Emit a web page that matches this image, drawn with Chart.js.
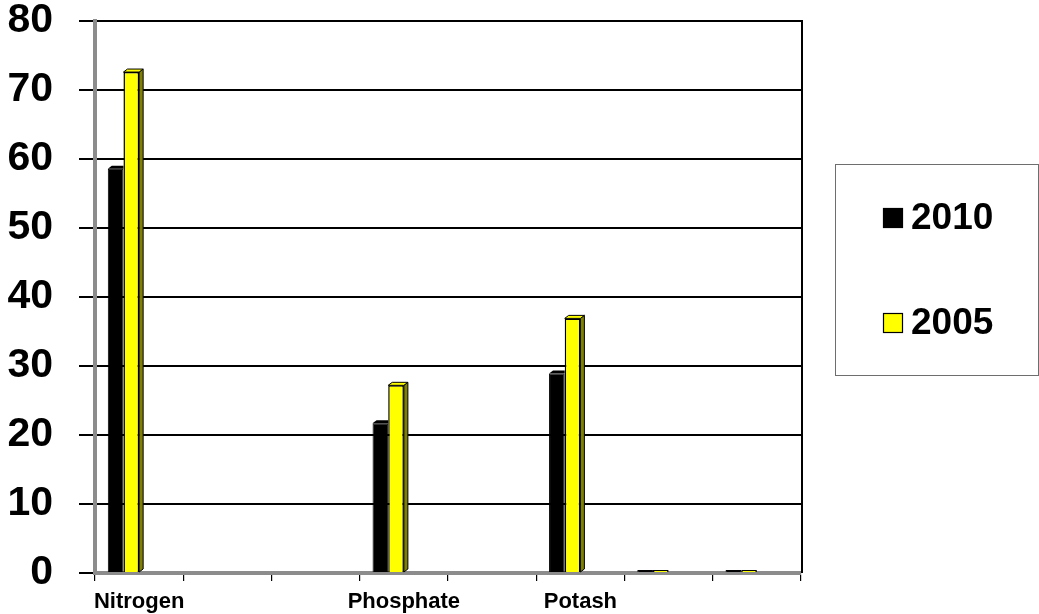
<!DOCTYPE html>
<html><head><meta charset="utf-8">
<script src="https://cdn.jsdelivr.net/npm/chart.js@4.4.1/dist/chart.umd.min.js"></script>
<style>html,body{margin:0;padding:0;background:#fff;overflow:hidden}#wrap{position:relative;width:1039px;height:614px}</style>
</head><body><div id="wrap"><canvas id="c" width="1039" height="614"></canvas></div>
<script>
const categories = ["Nitrogen", "", "", "Phosphate", "", "Potash", "", ""];
const values2010 = [58.6, null, null, 21.7, null, 28.9, 0, 0];
const values2005 = [72.6, null, null, 27.2, null, 36.9, 0, 0];
const seriesNames = ["2010", "2005"];
const yTicks = [0, 10, 20, 30, 40, 50, 60, 70, 80];

const FONT = "'Liberation Sans', Arial, sans-serif";

// 3D-like faces derived from each bar element's own geometry
const depthPlugin = {
  id: 'depth',
  afterDatasetsDraw(chart) {
    const ctx = chart.ctx;
    const dx = 4, dy = 3;
    chart.data.datasets.forEach((ds, di) => {
      if (!ds.face) return;
      const meta = chart.getDatasetMeta(di);
      meta.data.forEach((bar, i) => {
        const v = ds.data[i];
        if (v === null || v === undefined || v <= 0) return;
        const p = bar.getProps(['x', 'y', 'base', 'width'], true);
        const l = p.x - p.width / 2, r = p.x + p.width / 2;
        ctx.save();
        ctx.lineWidth = 1;
        ctx.strokeStyle = '#000';
        if (ds.face.side) {
          ctx.beginPath();
          ctx.moveTo(r, p.y); ctx.lineTo(r + dx, p.y - dy);
          ctx.lineTo(r + dx, p.base - dy); ctx.lineTo(r, p.base);
          ctx.closePath();
          ctx.fillStyle = ds.face.side; ctx.fill(); ctx.stroke();
          ctx.beginPath();
          ctx.moveTo(l, p.y); ctx.lineTo(l + dx, p.y - dy);
          ctx.lineTo(r + dx, p.y - dy); ctx.lineTo(r, p.y);
          ctx.closePath();
          ctx.fillStyle = ds.face.top; ctx.fill(); ctx.stroke();
        } else {
          ctx.beginPath();
          ctx.moveTo(l, p.y); ctx.lineTo(l + dx, p.y - dy);
          ctx.lineTo(r, p.y - dy); ctx.lineTo(r, p.y);
          ctx.closePath();
          ctx.fillStyle = ds.face.top; ctx.fill();
        }
        ctx.restore();
      });
    });
    // plot frame right edge
    const a = chart.chartArea;
    ctx.save();
    ctx.strokeStyle = '#000'; ctx.lineWidth = 2;
    ctx.beginPath(); ctx.moveTo(a.right + 1, a.top - 1); ctx.lineTo(a.right + 1, a.bottom); ctx.stroke();
    ctx.restore();
  }
};

// Boxed legend on the right, built from the dataset labels/colours
const boxLegend = {
  id: 'boxLegend',
  afterDraw(chart) {
    const ctx = chart.ctx;
    const bx = 835.5, by = 164.5, bw = 203, bh = 211;
    ctx.save();
    ctx.strokeStyle = '#6e6e6e'; ctx.lineWidth = 1;
    ctx.strokeRect(bx, by, bw, bh);
    const items = chart.data.datasets.filter(d => d.label);
    const rowY = [218, 323];
    ctx.font = "bold 37px " + FONT;
    ctx.textBaseline = 'middle';
    ctx.textAlign = 'left';
    items.forEach((d, i) => {
      const cy = rowY[i];
      ctx.fillStyle = d.backgroundColor;
      ctx.fillRect(883, cy - 10, 20, 20);
      ctx.strokeStyle = '#000'; ctx.lineWidth = 1.2;
      ctx.strokeRect(883.5, cy - 9.5, 19, 19);
      ctx.fillStyle = '#000';
      ctx.fillText(d.label, 911, cy + 1);
    });
    ctx.restore();
  }
};

new Chart(document.getElementById('c'), {
  type: 'bar',
  data: {
    labels: categories,
    datasets: [
      { label: seriesNames[0], data: values2010, backgroundColor: '#000000', borderColor: '#000000', borderWidth: 1,
        face: { top: '#000000' } },
      { label: seriesNames[1], data: values2005, backgroundColor: '#FFFF00', borderColor: '#000000', borderWidth: 1.5,
        face: { top: '#FFFF00', side: '#808000' } },
      { label: '', data: categories.map(() => null) },
      { label: '', data: categories.map(() => null) }
    ]
  },
  options: {
    responsive: false,
    animation: false,
    devicePixelRatio: 1,
    categoryPercentage: 0.71,
    barPercentage: 1,
    minBarLength: 3,
    layout: { padding: { top: 21, right: 238, bottom: 0, left: 0 } },
    plugins: { legend: { display: false }, tooltip: { enabled: false } },
    scales: {
      x: {
        grid: { display: true, drawOnChartArea: false, drawTicks: true, tickLength: 8, color: '#000', lineWidth: 1.2, offset: true },
        border: { display: true, color: '#8c8c8c', width: 4 },
        ticks: { color: '#000', font: { family: FONT, size: 22, weight: 'bold' }, padding: 8, maxRotation: 0, autoSkip: false },
        afterFit(s) { s.height = 41; s.paddingLeft = 0; s.paddingRight = 0; }
      },
      y: {
        min: yTicks[0], max: yTicks[yTicks.length - 1],
        afterBuildTicks(s) { s.ticks = yTicks.map(v => ({ value: v })); },
        grid: { color: '#000', lineWidth: 2, tickLength: 16, drawTicks: true },
        border: { display: true, color: '#8c8c8c', width: 4 },
        ticks: { color: '#000', font: { family: FONT, size: 41, weight: 'bold', lineHeight: 1 }, padding: 26 },
        afterFit(s) { s.width = 95; s.paddingTop = 0; s.paddingBottom = 0; }
      }
    }
  },
  plugins: [depthPlugin, boxLegend]
});
</script>
</body></html>
